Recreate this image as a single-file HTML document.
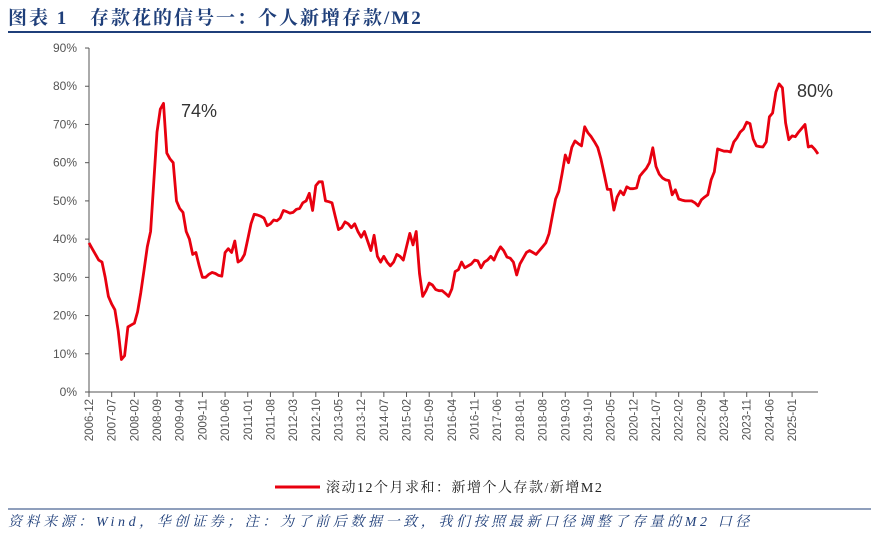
<!DOCTYPE html>
<html><head><meta charset="utf-8"><style>
body{margin:0;background:#fff;}
svg{display:block;}
</style></head><body>
<svg id="chart" width="877" height="534" xmlns="http://www.w3.org/2000/svg">
<text x="8" y="24" font-family="'Liberation Serif','Noto Serif CJK SC',serif" font-weight="bold" font-size="19" fill="#1f3f7a" letter-spacing="2">图表 1<tspan x="90">存款花的信号一：个人新增存款/M2</tspan></text>
<line x1="8" y1="32" x2="871" y2="32" stroke="#1f3f7a" stroke-width="2"/>
<g id="yaxis"></g>
<g id="xaxis"></g>
<g id="series"></g>
<text x="181" y="117" font-family="'Liberation Sans',sans-serif" font-size="18" fill="#333">74%</text>
<text x="797" y="97" font-family="'Liberation Sans',sans-serif" font-size="18" fill="#333">80%</text>
<g>
<line x1="275" y1="487" x2="320" y2="487" stroke="#e8000f" stroke-width="3"/>
<text x="326" y="492" font-family="'Liberation Serif','Noto Serif CJK SC',serif" font-size="14" letter-spacing="1.5" fill="#222">滚动12个月求和：新增个人存款/新增M2</text>
</g>
<line x1="8" y1="509" x2="871" y2="509" stroke="#1f3f7a" stroke-width="1"/>
<text x="8" y="526" font-family="'Liberation Serif','Noto Serif CJK SC',serif" font-style="italic" font-size="14" letter-spacing="3.6" fill="#1f3f7a">资料来源：Wind，华创证券；注：为了前后数据一致，我们按照最新口径调整了存量的M2 口径</text>
</svg>
<script>
const yTicks=[0,10,20,30,40,50,60,70,80,90];
const xTickLabels=["2006-12","2007-07","2008-02","2008-09","2009-04","2009-11","2010-06","2011-01","2011-08","2012-03","2012-10","2013-05","2013-12","2014-07","2015-02","2015-09","2016-04","2016-11","2017-06","2018-01","2018-08","2019-03","2019-10","2020-05","2020-12","2021-07","2022-02","2022-09","2023-04","2023-11","2024-06","2025-01"];
const ratioValues=[
39,37.5,36,34.5,34,30,25,23,21.5,16,8.5,9.5,
17,17.5,18,21,26,32,38,42,55,68,74,75.5,
62.5,61,60,50,48,47,42,40,36,36.5,33,30,
30,30.8,31.3,31,30.5,30.3,36.5,37.5,36.5,39.5,34,34.5,
36,40,44,46.5,46.3,46,45.5,43.5,44,45,44.8,45.5,
47.5,47.2,46.8,47,47.8,48,49.5,50,52,47.5,54,55,
55,50,49.8,49.5,46,42.5,43,44.5,44,43,44,42,
40.5,42,39.5,37,41,35.5,34,35.5,34,33,34,36,
35.5,34.5,38,41.5,38.5,42,31,25,26.5,28.5,28,26.8,
26.5,26.5,25.8,25,27,31.5,32,34,32.5,33,33.5,34.5,
34.3,32.5,34,34.5,35.5,34.5,36.5,38,37,35.3,35,34,
30.6,33.5,35,36.5,37,36.5,36,37,38,39,41.5,46,
50.5,52.5,57,62,60,64,65.7,65,64.4,69.4,67.8,66.8,
65.5,64,61,57,53,53,47.6,51,52.6,51.6,53.7,53.2,
53.2,53.4,56.5,57.5,58.5,60,63.9,59,57,56,55.5,55.3,
51.6,52.9,50.5,50.2,50,50,50,49.5,48.7,50.3,51,51.6,
55.5,57.6,63.6,63.3,63,63,62.8,65.4,66.5,68,68.8,70.6,
70.2,66.2,64.4,64.2,64.1,65.4,72,73,78.5,80.6,79.6,70.4,
66,67,66.8,68,69,70,64.1,64.4,63.5,62.3];
const monthsPerTick=7;

const X0=89,PX_PER_MONTH=3.24,Y0=392,PX_PER_PCT=3.822;
const xScale=m=>X0+m*PX_PER_MONTH;
const yScale=v=>Y0-v*PX_PER_PCT;
const NS="http://www.w3.org/2000/svg";
function mk(tag,attrs,parent){const e=document.createElementNS(NS,tag);for(const k in attrs)e.setAttribute(k,attrs[k]);parent.appendChild(e);return e;}
const ya=document.getElementById('yaxis'),xa=document.getElementById('xaxis'),sr=document.getElementById('series');
const xEnd=xScale(ratioValues.length-1);
let l=mk('line',{x1:X0,y1:yScale(90),x2:X0,y2:Y0,stroke:'#555','stroke-width':1},ya);


yTicks.forEach(t=>{
 const y=yScale(t);
 const tk=mk('line',{x1:X0-4,y1:y,x2:X0,y2:y,stroke:'#555','stroke-width':1},ya);
 
 
 const tx=mk('text',{x:X0-12,y:y+4,'text-anchor':'end','font-family':"'Liberation Sans',sans-serif",'font-size':12,fill:'#555'},ya);
 tx.textContent=t+'%';
 
 
});
l=mk('line',{x1:X0,y1:Y0,x2:xEnd,y2:Y0,stroke:'#555','stroke-width':1},xa);


xTickLabels.forEach((lab,i)=>{
 const x=xScale(i*monthsPerTick);
 const tk=mk('line',{x1:x,y1:Y0,x2:x,y2:Y0+5,stroke:'#555','stroke-width':1},xa);
 
 
 const tx=mk('text',{x:0,y:0,'text-anchor':'end','font-family':"'Liberation Sans',sans-serif",'font-size':11.5,fill:'#555',transform:`translate(${x+4},${Y0+7}) rotate(-90)`},xa);
 tx.textContent=lab;
 
 
});
const pts=ratioValues.map((v,i)=>xScale(i).toFixed(1)+','+yScale(v).toFixed(1)).join(' ');
const pl=mk('polyline',{points:pts,fill:'none',stroke:'#e8000f','stroke-width':2.8,'stroke-linejoin':'round'},sr);


</script>
</body></html>
